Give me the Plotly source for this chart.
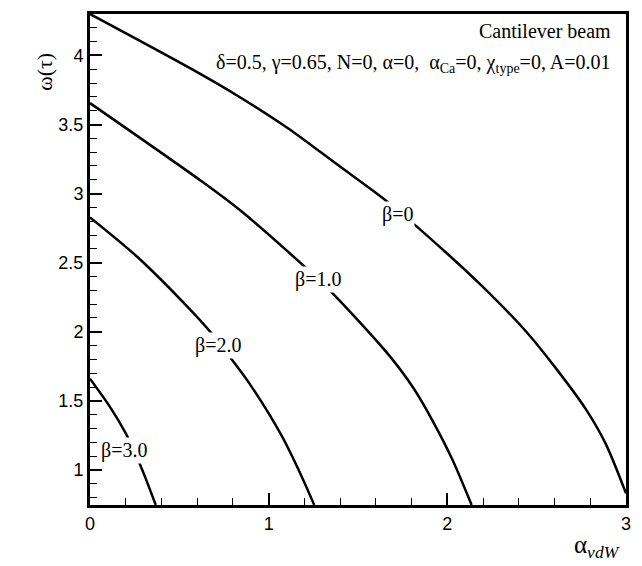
import plotly.graph_objects as go

# Data
beta0_x = [0, 0.55, 0.83, 1.108, 1.386, 1.664, 2.0, 2.219, 2.442, 2.608, 2.775, 2.886, 3.0]
beta0_y = [4.30, 3.915, 3.705, 3.473, 3.208, 2.942, 2.565, 2.30, 2.0, 1.735, 1.44, 1.19, 0.83]

beta1_x = [0, 0.627, 0.849, 1.108, 1.34, 1.664, 1.812, 1.92, 2.03, 2.136]
beta1_y = [3.655, 3.087, 2.87, 2.58, 2.302, 1.845, 1.589, 1.35, 1.07, 0.746]

beta2_x = [0, 0.264, 0.542, 0.673, 0.775, 0.89, 1.071, 1.182, 1.255]
beta2_y = [2.828, 2.543, 2.186, 2.0, 1.831, 1.63, 1.251, 0.96, 0.746]

beta3_x = [0, 0.118, 0.201, 0.257, 0.312, 0.368]
beta3_y = [1.66, 1.444, 1.263, 1.11, 0.937, 0.746]

curve_labels = ["β=0", "β=1.0", "β=2.0", "β=3.0"]
label_x = [1.72, 1.275, 0.719, 0.192]
label_y = [2.846, 2.375, 1.904, 1.143]

x_ticks = [0, 1, 2, 3]
y_ticks = [1, 1.5, 2, 2.5, 3, 3.5, 4]
y_ticktext = ["1", "1.5", "2", "2.5", "3", "3.5", "4"]

fig = go.Figure()
for xs, ys in [(beta0_x, beta0_y), (beta1_x, beta1_y), (beta2_x, beta2_y), (beta3_x, beta3_y)]:
    fig.add_trace(go.Scatter(x=xs, y=ys, mode="lines",
                             line=dict(color="black", width=2.5, shape="spline", smoothing=0.8),
                             showlegend=False, hoverinfo="skip"))

serif = "Liberation Serif, Times New Roman, serif"
sans = "Liberation Sans, Arial, sans-serif"

for t, lx, ly in zip(curve_labels, label_x, label_y):
    fig.add_annotation(x=lx, y=ly, xref="x", yref="y", text=t, showarrow=False,
                       font=dict(family=serif, size=20, color="black"),
                       bgcolor="white", borderpad=1)

fig.add_annotation(x=0.976, y=0.965, xref="paper", yref="paper", text="Cantilever beam",
                   showarrow=False, xanchor="right", yanchor="middle",
                   font=dict(family=serif, size=20, color="black"))
fig.add_annotation(x=0.976, y=0.9, xref="paper", yref="paper",
                   text="δ=0.5, γ=0.65, N=0, α=0,  α<sub>Ca</sub>=0, χ<sub>type</sub>=0, A=0.01",
                   showarrow=False, xanchor="right", yanchor="middle",
                   font=dict(family=serif, size=20, color="black"))

fig.add_annotation(x=-0.111, y=0.925, xref="paper", yref="paper", text="ω(τ)",
                   textangle=-90, showarrow=False,
                   font=dict(family=serif, size=22, color="black"))
fig.add_annotation(x=0.992, y=-0.12, xref="paper", yref="paper", xanchor="right",
                   text="α<sub><i>vdW</i></sub>", showarrow=False,
                   font=dict(family=serif, size=25, color="black"))

fig.update_xaxes(range=[0, 3], tickvals=x_ticks, ticks="inside", ticklen=12, tickwidth=2,
                 tickcolor="black", showline=True, linewidth=3, linecolor="black", mirror=True,
                 showgrid=False, zeroline=False,
                 tickfont=dict(family=sans, size=18, color="black"),
                 minor=dict(dtick=0.2, ticks="inside", ticklen=7, tickwidth=1, tickcolor="black", showgrid=False))
fig.update_yaxes(range=[0.746, 4.3], tickvals=y_ticks, ticktext=y_ticktext, ticks="inside", ticklen=12,
                 tickwidth=2, tickcolor="black", showline=True, linewidth=3, linecolor="black", mirror=True,
                 showgrid=False, zeroline=False,
                 tickfont=dict(family=sans, size=18, color="black"),
                 minor=dict(dtick=0.1, ticks="inside", ticklen=7, tickwidth=1, tickcolor="black", showgrid=False))

fig.update_layout(width=642, height=566, margin=dict(l=90, r=11, t=13, b=61),
                  plot_bgcolor="white", paper_bgcolor="white")

fig.write_html("out.html")
